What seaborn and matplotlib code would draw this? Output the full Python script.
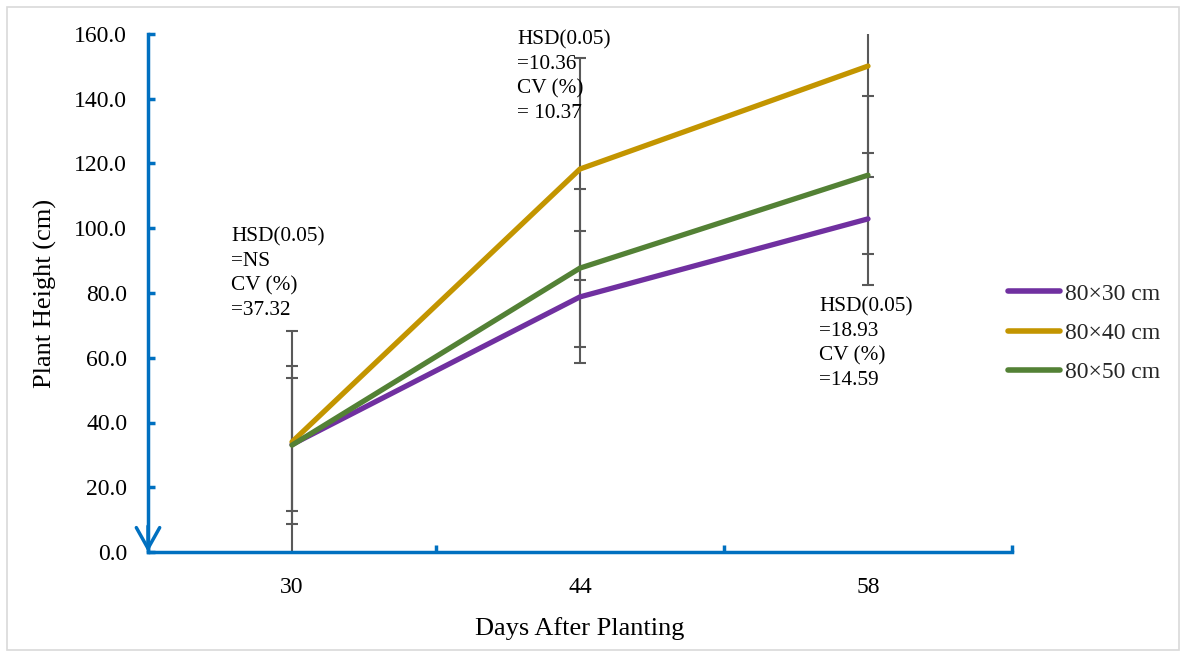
import matplotlib
matplotlib.use("Agg")
import matplotlib.pyplot as plt
from matplotlib.patches import Rectangle
import seaborn as sns
import pandas as pd

# Plant height over time for three planting spacings
days = ["30", "44", "58"]
spacings = ["80×30 cm", "80×40 cm", "80×50 cm"]
height_80x30 = [33.2, 78.8, 102.9]
height_80x40 = [34.0, 118.3, 150.1]
height_80x50 = [33.0, 87.7, 116.4]
err_80x30 = [20.4, 20.4, 20.4]
err_80x40 = [34.2, 34.2, 34.2]
err_80x50 = [24.4, 24.4, 24.4]
notes = [
    "HSD(0.05)\n=NS\nCV (%)\n=37.32",
    "HSD(0.05)\n=10.36\nCV (%)\n= 10.37",
    "HSD(0.05)\n=18.93\nCV (%)\n=14.59",
]
y_ticks = [0, 20, 40, 60, 80, 100, 120, 140, 160]

colors = ["#7030A0", "#C39500", "#538135"]
heights = [height_80x30, height_80x40, height_80x50]
errors = [err_80x30, err_80x40, err_80x50]

df = pd.DataFrame({
    "day": days * 3,
    "height": height_80x30 + height_80x40 + height_80x50,
    "spacing": [s for s in spacings for _ in days],
})

sns.set_theme(style="white")
plt.rcParams["font.family"] = ["Liberation Serif", "DejaVu Serif"]

W, H = 1187, 657
fig = plt.figure(figsize=(W / 100, H / 100), dpi=100)
ax = fig.add_axes([148 / W, 1 - 552 / H, (1012 - 148) / W, (552 - 34) / H])

# light frame around the whole figure
fig.patches.append(Rectangle((7 / W, 7 / H), (1179 - 7) / W, (650 - 7) / H,
                             transform=fig.transFigure, fill=False,
                             edgecolor="#d9d9d9", lw=1.2))

# error bars underneath the lines
for h, e in zip(heights, errors):
    ax.errorbar(days, h, yerr=e, fmt="none", ecolor="#595959",
                elinewidth=1.5, capsize=4.5, capthick=1.5, zorder=2)

sns.lineplot(data=df, x="day", y="height", hue="spacing", hue_order=spacings,
             palette=colors, linewidth=3.8, ax=ax, zorder=3, legend=True,
             sort=False)
for ln in ax.lines:
    ln.set_solid_capstyle("round")

ax.set_xlim(-0.5, 2.5)
ax.set_ylim(0, 160)
ax.set_yticks(y_ticks)
ax.set_yticklabels([f"{v:.1f}" for v in y_ticks])
ax.set_xticks(range(len(days)))
ax.set_xticklabels(days)
ax.set_xticks([-0.5, 0.5, 1.5, 2.5], minor=True)

blue = "#0070C0"
for side in ["top", "right"]:
    ax.spines[side].set_visible(False)
for side in ["left", "bottom"]:
    ax.spines[side].set_color(blue)
    ax.spines[side].set_linewidth(2.5)
    ax.spines[side].set_zorder(4)

ax.tick_params(axis="y", which="major", direction="in", length=5, width=2.5,
               color=blue, labelsize=17, pad=15, left=True)
ax.tick_params(axis="x", which="major", length=0, labelsize=17, pad=18)
ax.tick_params(axis="x", which="minor", direction="in", length=5, width=2.5,
               color=blue, bottom=True)
for lbl in ax.get_yticklabels() + ax.get_xticklabels():
    lbl.set_color("black")

ax.set_xlabel("Days After Planting", fontsize=19, labelpad=14, color="black")
ax.set_ylabel("Plant Height (cm)", fontsize=19, labelpad=12, color="black")

# arrow head at the bottom of the value axis
ax.annotate("", xy=(0, 0), xytext=(0, 0.05), xycoords="axes fraction",
            arrowprops=dict(arrowstyle="->,head_length=0.75,head_width=0.42",
                            color=blue, lw=2.5, shrinkA=0, shrinkB=0,
                            mutation_scale=20), annotation_clip=False)

# statistics notes per sampling date
note_pos = [(231, 227), (517, 30), (819, 297)]
for txt, (px, py) in zip(notes, note_pos):
    fig.text(px / W, 1 - py / H, txt, ha="left", va="top", fontsize=15.3,
             linespacing=1.38, color="black")

leg = ax.legend(loc="center left", bbox_to_anchor=(1008 / W, 1 - 333 / H),
                bbox_transform=fig.transFigure, frameon=False, fontsize=17,
                handlelength=2.2, handletextpad=0.2, labelspacing=0.75,
                borderpad=0, borderaxespad=0)
for lh in leg.get_lines():
    lh.set_linewidth(4.0)
    lh.set_solid_capstyle("round")

fig.savefig("out.png", dpi=100, facecolor="white")
